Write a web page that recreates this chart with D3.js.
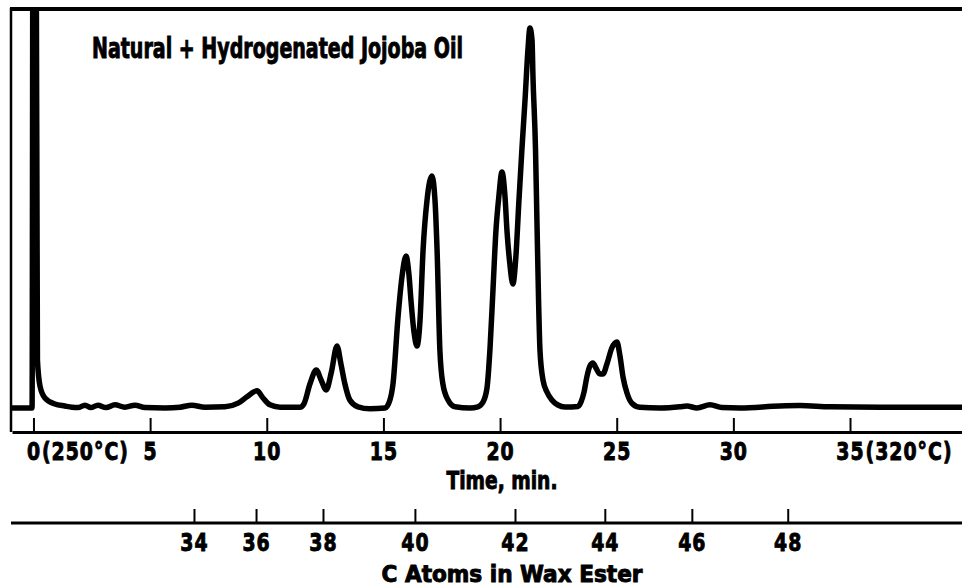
<!DOCTYPE html>
<html>
<head>
<meta charset="utf-8">
<script src="https://cdn.jsdelivr.net/npm/d3@7"></script>
<style>
    body { margin: 0; background: #fff; }
    text {
        font-family: "Liberation Sans Narrow", "DejaVu Sans Condensed", "DejaVu Sans", sans-serif;
        font-weight: bold;
        fill: #000;
        stroke: #000;
        stroke-width: 0.9px;
    }
</style>
</head>
<body>
<svg id="chart" width="962" height="588"></svg>
<script>
// chromatogram trace: time (min) and detector response (arbitrary units)
const traceTime = [
    -0.92, -0.06, -0.02, 0.11, 0.17, 0.28, 0.49, 0.92, 1.35, 1.65, 1.91, 2.21, 2.46, 2.76, 3.11, 3.49,
    3.92, 4.35, 4.78, 5.64, 6.28, 6.79, 7.35, 8.21, 8.77, 9.15, 9.58, 9.84, 10.14, 10.57, 11.42, 11.59,
    11.85, 12.12, 12.33, 12.55, 12.77, 13.01, 13.18, 13.35, 13.56, 13.91, 14.42, 15.07, 15.28, 15.41,
    15.63, 15.8, 15.97, 16.1, 16.18, 16.31, 16.44, 16.57, 16.7, 16.87, 17.08, 17.21, 17.3, 17.42, 17.55,
    17.77, 18.07, 18.71, 19.05, 19.27, 19.44, 19.57, 19.7, 19.82, 19.95, 20.08, 20.21, 20.3, 20.42,
    20.55, 20.68, 20.81, 20.94, 21.07, 21.2, 21.28, 21.37, 21.41, 21.52, 21.58, 21.65, 21.71, 21.84,
    22.01, 22.22, 22.48, 22.78, 23.34, 23.47, 23.6, 23.72, 23.85, 23.98, 24.11, 24.28, 24.41, 24.58,
    24.79, 25.01, 25.14, 25.27, 25.44, 25.65, 25.99, 26.85, 27.71, 28.01, 28.44, 29.0, 29.51, 30.28,
    31.99, 32.85, 34.14, 36.28, 39.8
];
const traceSignal = [
    0, 0, 130, 130, 12, 5.5, 2.5, 1, 0.5, 0.2, 0.1, 0.7, 0.1, 0.7, 0.1, 0.8,
    0.2, 0.7, 0.1, 0, 0.2, 0.7, 0.2, 0.3, 1.2, 2.8, 4.3, 2.5, 0.8, 0.2, 0.2, 1,
    6, 9.5, 7, 4.5, 9, 15.5, 11, 6, 2, 0.3, -0.2, 0, 2, 6,
    23, 33, 38, 33, 27, 19, 15.5, 22, 39.5, 52, 58, 52, 39.5, 14.5, 6,
    2, 0.3, 0, 0.3, 1.5, 5, 15, 30, 44, 53, 59, 53, 44, 36,
    31, 38, 52, 65, 77, 90, 95, 92, 83, 64.5, 47, 27, 14.5, 7,
    4, 2, 0.75, 0.25, 0.4, 1.5, 4, 7.75, 10.5, 11.25, 10, 8.5, 8.5, 11,
    15, 16.5, 13, 7.75, 3.75, 1.2, 0.2, 0, 0.3, 0.5, 0, 0.8, 0.1, 0,
    0.5, 0.6, 0.3, 0.2, 0.2
];

// time axis
const timeTicks = [0, 5, 10, 15, 20, 25, 30, 35];
const timeTickLabels = ['0(250°C)', '5', '10', '15', '20', '25', '30', '35(320°C)'];

// carbon number axis, placed at the retention time of each ester
const carbonTicks = [34, 36, 38, 40, 42, 44, 46, 48];
const carbonTimes = [6.88, 9.54, 12.41, 16.35, 20.64, 24.49, 28.22, 32.33];

const title = 'Natural + Hydrogenated Jojoba Oil';
const timeLabel = 'Time, min.';
const carbonLabel = 'C Atoms in Wax Ester';

const svg = d3.select('#chart');

const xScale = d3.scaleLinear()
    .domain([-0.92, 39.8])
    .range([12, 962]);

const yScale = d3.scaleLinear()
    .domain([0, 100])
    .range([408, 8]);

const TIME_AXIS_Y = 432;
const CARBON_AXIS_Y = 523;
// the print uses a narrow heavy face, squeeze the labels to match
const LABEL_SQUEEZE = 'scale(0.84,1)';

svg.append('clipPath')
    .attr('id', 'plot-clip')
    .append('rect')
    .attr('x', 12)
    .attr('y', 10)
    .attr('width', 950)
    .attr('height', TIME_AXIS_Y - 10);

// frame: left side and top
svg.append('line')
    .attr('x1', 11).attr('x2', 11)
    .attr('y1', 8).attr('y2', TIME_AXIS_Y)
    .attr('stroke', '#000')
    .attr('stroke-width', 2.5);

svg.append('line')
    .attr('x1', 10).attr('x2', 962)
    .attr('y1', 9).attr('y2', 9)
    .attr('stroke', '#000')
    .attr('stroke-width', 4);

// the trace
const points = traceTime.map((t, i) => [t, traceSignal[i]]);
const line = d3.line()
    .x(d => xScale(d[0]))
    .y(d => yScale(d[1]))
    .curve(d3.curveMonotoneX);

svg.append('path')
    .datum(points)
    .attr('clip-path', 'url(#plot-clip)')
    .attr('d', line)
    .attr('fill', 'none')
    .attr('stroke', '#000')
    .attr('stroke-width', 5.5)
    .attr('stroke-linejoin', 'round');

// time axis
const timeAxis = svg.append('g')
    .attr('transform', `translate(0,${TIME_AXIS_Y})`)
    .call(d3.axisBottom(xScale)
        .tickValues(timeTicks)
        .tickSize(-14)
        .tickSizeOuter(0)
        .tickPadding(10)
        .tickFormat((d, i) => timeTickLabels[i].split('(')[0]));

styleAxis(timeAxis);

// number stays centred on the tick, the temperature trails after it
timeAxis.selectAll('.tick').each(function(d, i) {
    const lbl = timeTickLabels[i];
    if (lbl.indexOf('(') < 0) return;
    const txt = d3.select(this).select('text');
    const w = txt.node().getComputedTextLength();
    d3.select(this).append('text')
        .attr('x', w / 2 + 1)
        .attr('y', txt.attr('y'))
        .attr('dy', txt.attr('dy'))
        .attr('text-anchor', 'start')
        .attr('font-size', 25)
        .attr('letter-spacing', 1.2)
        .attr('transform', LABEL_SQUEEZE)
        .text(lbl.slice(lbl.indexOf('(')));
});

svg.append('text')
    .attr('x', 502)
    .attr('y', 489)
    .attr('text-anchor', 'middle')
    .attr('font-size', 25)
    .attr('textLength', 111)
    .attr('lengthAdjust', 'spacingAndGlyphs')
    .text(timeLabel);

// carbon atoms axis
const carbonScale = d3.scaleLinear()
    .domain(carbonTicks)
    .range(carbonTimes.map(t => xScale(t)));

svg.append('line')
    .attr('x1', 11).attr('x2', 962)
    .attr('y1', CARBON_AXIS_Y).attr('y2', CARBON_AXIS_Y)
    .attr('stroke', '#000')
    .attr('stroke-width', 3);

const carbonAxis = svg.append('g')
    .attr('transform', `translate(0,${CARBON_AXIS_Y})`)
    .call(d3.axisBottom(carbonScale)
        .tickValues(carbonTicks)
        .tickSize(-14)
        .tickSizeOuter(0)
        .tickPadding(10)
        .tickFormat(d3.format('d')));

styleAxis(carbonAxis);
carbonAxis.select('.domain').remove();

svg.append('text')
    .attr('x', 512)
    .attr('y', 582)
    .attr('text-anchor', 'middle')
    .attr('font-size', 23)
    .attr('textLength', 261)
    .attr('lengthAdjust', 'spacingAndGlyphs')
    .text(carbonLabel);

// title inside the plot
svg.append('text')
    .attr('x', 92)
    .attr('y', 58)
    .attr('font-size', 28)
    .attr('textLength', 371)
    .attr('lengthAdjust', 'spacingAndGlyphs')
    .text(title);

function styleAxis(g) {
    g.select('.domain')
        .attr('stroke', '#000')
        .attr('stroke-width', 3);
    g.selectAll('.tick line')
        .attr('stroke', '#000')
        .attr('stroke-width', 2);
    g.selectAll('.tick text')
        .attr('font-size', 25)
        .attr('letter-spacing', 1.2)
        .attr('transform', LABEL_SQUEEZE);
    g.attr('font-family', null).attr('font-size', null);
}
</script>
</body>
</html>
